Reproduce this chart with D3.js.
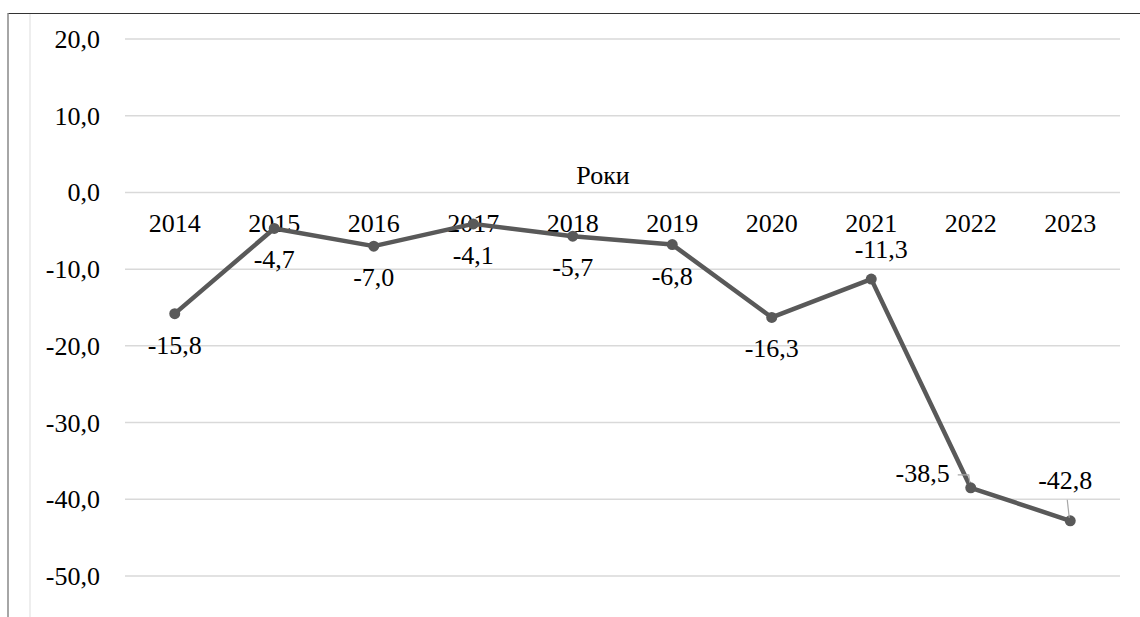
<!DOCTYPE html>
<html><head><meta charset="utf-8">
<script src="https://cdn.jsdelivr.net/npm/d3@7"></script>
</head><body style="margin:0">
<svg id="c" width="1140" height="617" style="display:block"></svg>
<script>
const years = ["2014","2015","2016","2017","2018","2019","2020","2021","2022","2023"];
const values = [-15.8,-4.7,-7.0,-4.1,-5.7,-6.8,-16.3,-11.3,-38.5,-42.8];
const labelPos = ["below","below","below","below","below","below","below","above","left","above"];
const yTicks = [20,10,0,-10,-20,-30,-40,-50];
const axisTitle = "Роки";

const svg = d3.select("#c");
const left = 125, right = 1120;
const x = d3.scaleBand().domain(years).range([left, right]);
const y = d3.scaleLinear().domain([-50, 20]).range([576, 39]);
const fmt = v => (v < 0 ? "-" : "") + Math.abs(v).toFixed(1).replace(".", ",");

function txt(sel) {
  return sel.style("font-family", '"Liberation Serif"').attr("font-size", 26).attr("fill", "#000");
}

// frame
svg.append("line").attr("x1",8).attr("x2",1140).attr("y1",13.5).attr("y2",13.5).attr("stroke","#333").attr("stroke-width",1.2);
svg.append("line").attr("x1",8).attr("x2",8).attr("y1",13).attr("y2",617).attr("stroke","#888").attr("stroke-width",1.5);
svg.append("line").attr("x1",30).attr("x2",30).attr("y1",14).attr("y2",617).attr("stroke","#ddd").attr("stroke-width",1);

// gridlines
svg.append("g").selectAll("line").data(yTicks).join("line")
  .attr("x1",left).attr("x2",right).attr("y1",d=>y(d)).attr("y2",d=>y(d))
  .attr("stroke","#d9d9d9").attr("stroke-width",1.5);

// y labels
txt(svg.append("g").selectAll("text").data(yTicks).join("text")
  .attr("x",100).attr("y",d=>y(d)+9).attr("text-anchor","end"))
  .text(d=>fmt(d));

// category labels
txt(svg.append("g").selectAll("text").data(years).join("text")
  .attr("x",d=>x(d)+x.bandwidth()/2).attr("y",y(0)+40).attr("text-anchor","middle"))
  .text(d=>d);

// axis title
txt(svg.append("text").attr("x",603).attr("y",184).attr("text-anchor","middle")).text(axisTitle);

const cx = (d,i) => x(years[i]) + x.bandwidth()/2;
const line = d3.line().x((d,i)=>cx(d,i)).y(d=>y(d));
svg.append("path").datum(values).attr("d",line).attr("fill","none")
  .attr("stroke","#595959").attr("stroke-width",4.5).attr("stroke-linejoin","round");
svg.append("g").selectAll("circle").data(values).join("circle")
  .attr("cx",(d,i)=>cx(d,i)).attr("cy",d=>y(d)).attr("r",5.5).attr("fill","#595959");

// leader lines
const px8 = cx(values[8],8), py8 = y(values[8]);
svg.append("polyline").attr("points",`${px8-13},${py8-13} ${px8-2},${py8-13} ${px8-1},${py8-5}`)
  .attr("fill","none").attr("stroke","#a6a6a6").attr("stroke-width",1.2);
const px9 = cx(values[9],9), py9 = y(values[9]);
svg.append("line").attr("x1",px9-3).attr("y1",py9-21).attr("x2",px9-1).attr("y2",py9-3)
  .attr("stroke","#a6a6a6").attr("stroke-width",1.2);

// data labels
txt(svg.append("g").selectAll("text").data(values).join("text")
  .attr("x",(d,i)=>{
    const p = labelPos[i];
    if (p==="left") return cx(d,i)-21;
    if (p==="above" && i===7) return cx(d,i)+10;
    if (p==="above") return cx(d,i)-5;
    return cx(d,i);
  })
  .attr("y",(d,i)=>{
    const p = labelPos[i];
    if (p==="below") return y(d)+40;
    if (p==="left") return y(d)-6;
    if (i===9) return y(d)-32;
    return y(d)-21;
  })
  .attr("text-anchor",(d,i)=>labelPos[i]==="left"?"end":"middle"))
  .text(d=>fmt(d));
</script>
</body></html>
